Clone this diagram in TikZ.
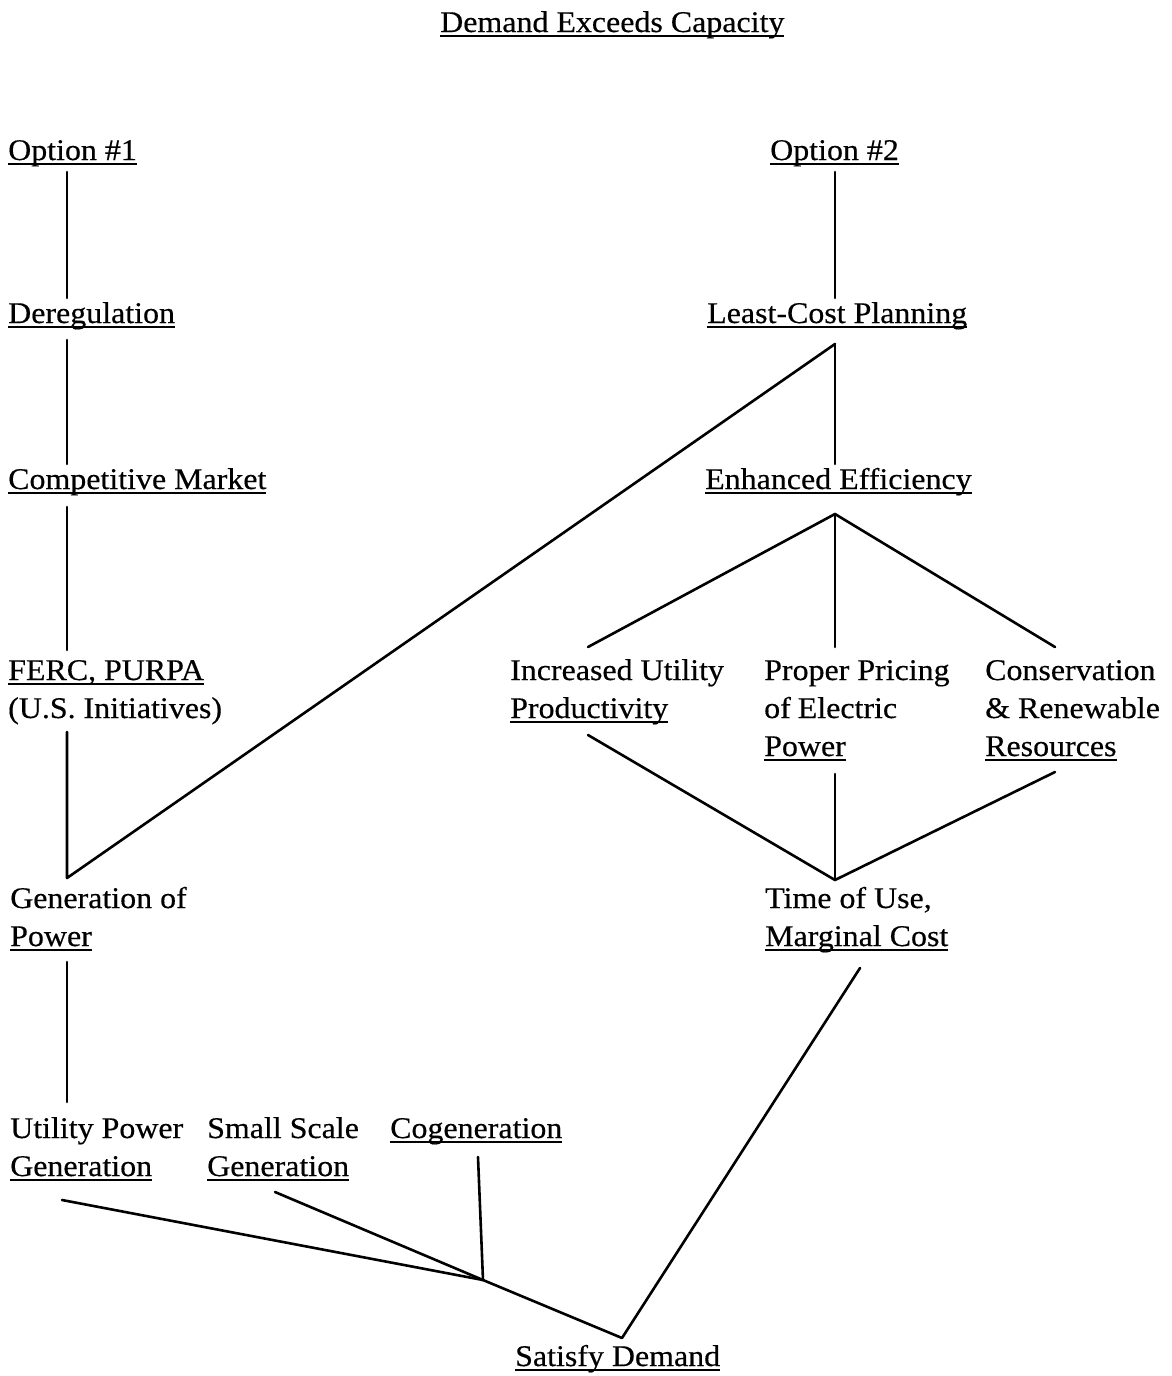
\documentclass[tikz,border=0pt]{standalone}
\usepackage{fontspec}
\setmainfont{Liberation Serif}[FakeStretch=1.065,FakeBold=0.4]
\newcommand\ul[1]{\setbox0\hbox{#1}\rlap{\rule[-4.5pt]{\wd0}{1.6pt}}\box0}
\newcommand\twol[2]{\vtop{\hbox{#1}\hbox{#2}}}
\newcommand\threel[3]{\vtop{\hbox{#1}\hbox{#2}\hbox{#3}}}
\begin{document}
\begin{tikzpicture}[x=1pt,y=1pt,
  lbl/.style={anchor=base west,inner sep=0pt,font=\fontsize{30}{38}\selectfont},
  conn/.style={line width=2.6pt,line cap=round,line join=round}]
\useasboundingbox[fill=white] (0,0) rectangle (1171,-1376);
% nodes
\node[lbl] (title) at (440,-32) {\ul{Demand Exceeds Capacity}};
\node[lbl] (opt1) at (8,-160) {\ul{Option \#1}};
\node[lbl] (opt2) at (770,-160) {\ul{Option \#2}};
\node[lbl] (dereg) at (8,-323) {\ul{Deregulation}};
\node[lbl] (lcp) at (707,-323) {\ul{Least-Cost Planning}};
\node[lbl] (comp) at (8,-489) {\ul{Competitive Market}};
\node[lbl] (enh) at (705,-489) {\ul{Enhanced Efficiency}};
\node[lbl] (ferc) at (8,-680) {\twol{\ul{FERC, PURPA}}{(U.S. Initiatives)}};
\node[lbl] (inc) at (510,-680) {\twol{Increased Utility}{\ul{Productivity}}};
\node[lbl] (prop) at (764,-680) {\threel{Proper Pricing}{of\kern-1pt\ Electric}{\ul{Power}}};
\node[lbl] (cons) at (985,-680) {\threel{Conservation}{\& Renewable}{\ul{Resources}}};
\node[lbl] (genp) at (10,-908) {\twol{Generation of}{\ul{Power}}};
\node[lbl] (tou) at (765,-908) {\twol{Time of Use,}{\ul{Marginal Cost}}};
\node[lbl] (upg) at (10,-1138) {\twol{Utility Power}{\ul{Generation}}};
\node[lbl] (ssg) at (207,-1138) {\twol{Small Scale}{\ul{Generation}}};
\node[lbl] (cog) at (390,-1138) {\ul{Cogeneration}};
\node[lbl] (sat) at (515,-1366) {\ul{Satisfy Demand}};
% junction points
\coordinate (v1) at (67,-878);
\coordinate (v2) at (835,-880);
\coordinate (j) at (483,-1280);
% connectors, left branch
\draw[conn] ([shift={(59,-12)}]opt1.base west) -- ([shift={(59,25)}]dereg.base west);
\draw[conn] ([shift={(59,-17)}]dereg.base west) -- ([shift={(59,25)}]comp.base west);
\draw[conn] ([shift={(59,-18)}]comp.base west) -- ([shift={(59,30)}]ferc.base west);
\draw[conn] ([shift={(59,-52)}]ferc.base west) -- (v1) -- ([shift={(128,-21)}]lcp.base west);
% right branch
\draw[conn] ([shift={(65,-12)}]opt2.base west) -- ([shift={(128,25)}]lcp.base west);
\draw[conn] ([shift={(128,-21)}]lcp.base west) -- ([shift={(130,25)}]enh.base west);
\draw[conn] ([shift={(78,33)}]inc.base west) -- ([shift={(130,-25)}]enh.base west) -- ([shift={(70,33)}]cons.base west);
\draw[conn] ([shift={(130,-25)}]enh.base west) -- ([shift={(71,33)}]prop.base west);
\draw[conn] ([shift={(78,-55)}]inc.base west) -- (v2) -- ([shift={(70,-92)}]cons.base west);
\draw[conn] ([shift={(71,-94)}]prop.base west) -- (v2);
% lower part
\draw[conn] ([shift={(57,-54)}]genp.base west) -- ([shift={(57,36)}]upg.base west);
\draw[conn] ([shift={(95,-60)}]tou.base west) -- ([shift={(107,28)}]sat.base west) -- (j);
\draw[conn] ([shift={(52,-62)}]upg.base west) -- (j);
\draw[conn] ([shift={(68,-54)}]ssg.base west) -- (j);
\draw[conn] ([shift={(88,-19)}]cog.base west) -- (j);
\end{tikzpicture}
\end{document}
